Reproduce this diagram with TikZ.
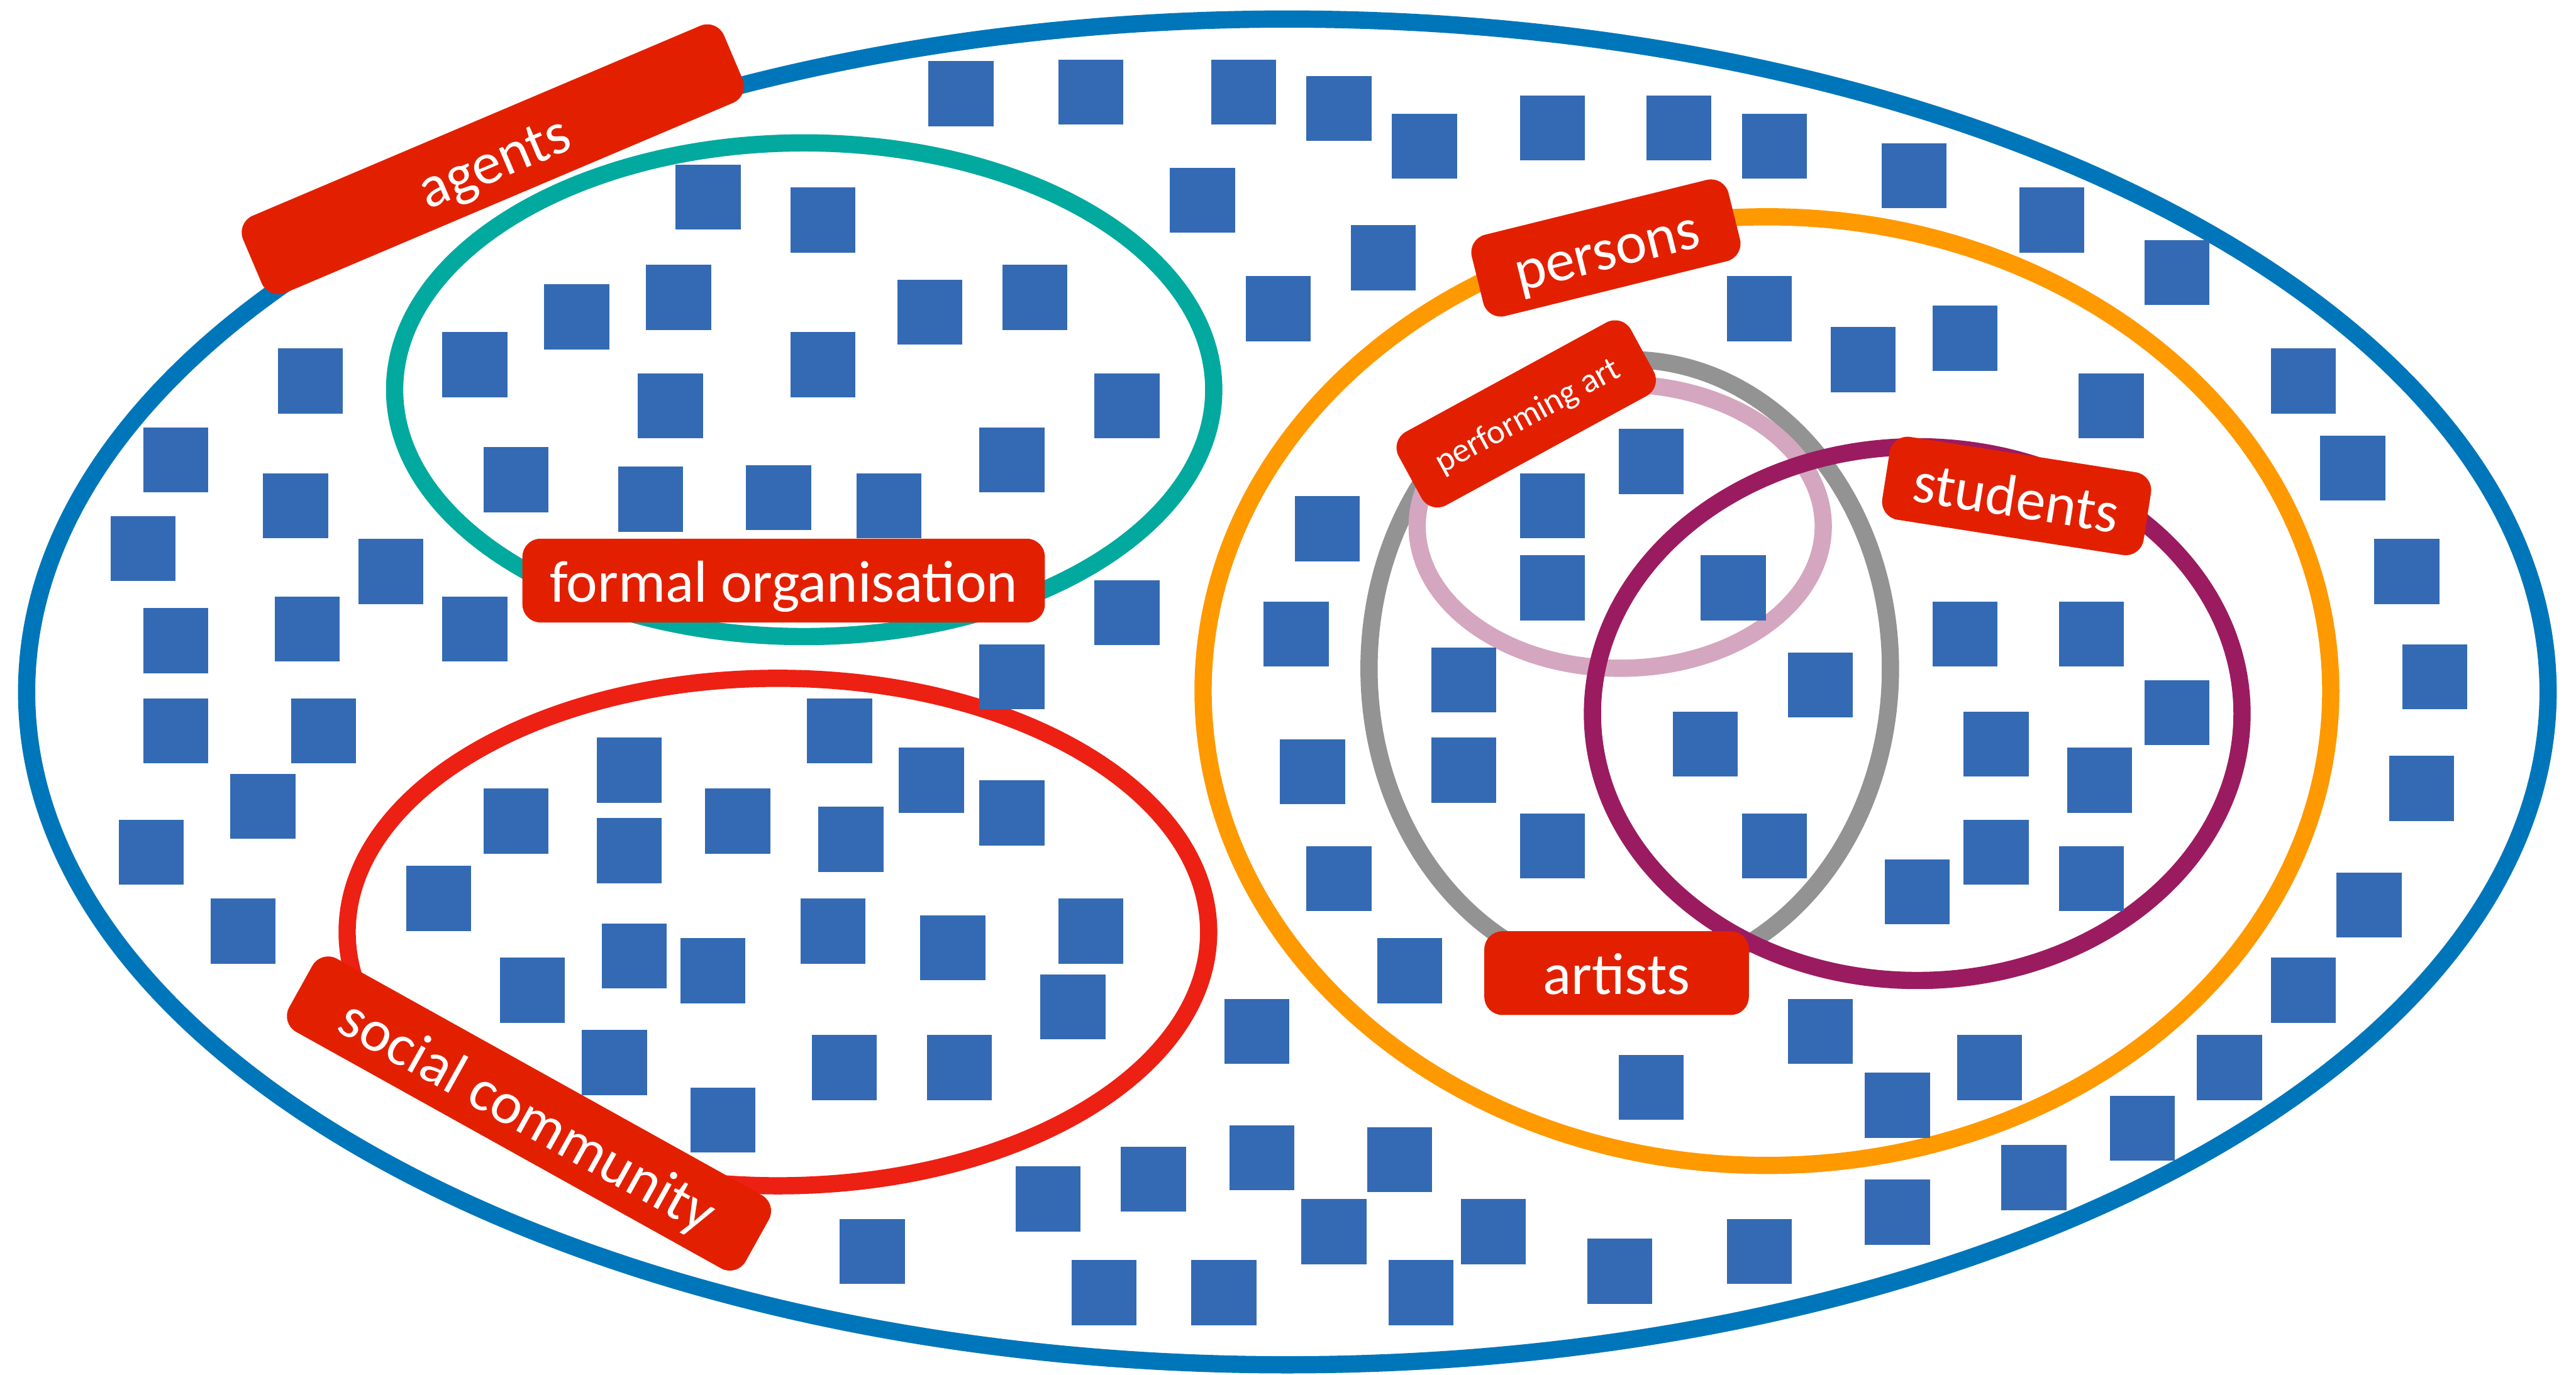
\documentclass[tikz,border=0pt]{standalone}
\usepackage{fontspec}
\setmainfont{Carlito}
\definecolor{outerblue}{RGB}{0,118,186}
\definecolor{tealc}{RGB}{2,169,158}
\definecolor{socred}{RGB}{237,32,20}
\definecolor{orangec}{RGB}{255,153,0}
\definecolor{greyc}{RGB}{147,147,147}
\definecolor{pinkc}{RGB}{213,166,192}
\definecolor{purplec}{RGB}{155,27,96}
\definecolor{labred}{RGB}{226,32,0}
\definecolor{sqblue}{RGB}{51,106,179}
\begin{document}
\begin{tikzpicture}[x=1pt,y=-1pt,
  ring/.style={line width=10.5pt},
  sq/.style={fill=sqblue},
  lab/.style={fill=labred,text=white,rounded corners=11pt,inner sep=0pt,
    minimum height=51pt,text height=26pt,text depth=0pt,
    font=\fontsize{36}{36}\selectfont},
  widebox/.style={minimum width=318pt},
  shortbox/.style={minimum width=161pt}]
\fill[white] (0,0) rectangle (1568,837);
\useasboundingbox (0,0) rectangle (1568,837);
% sets
\draw[ring,outerblue] (783.6,421.3) ellipse [x radius=767.4pt,y radius=409.7pt];
\draw[ring,tealc] (489.5,237.3) ellipse [x radius=249.3pt,y radius=150.3pt];
\draw[ring,socred] (473.5,567.5) ellipse [x radius=262.2pt,y radius=154.5pt];
\draw[ring,orangec] (1075.5,420.8) ellipse [x radius=343.2pt,y radius=288.8pt];
\draw[ring,greyc] (992,407) ellipse [x radius=158.7pt,y radius=188pt];
\draw[ring,pinkc] (986.2,320.4) ellipse [x radius=123.6pt,y radius=86.5pt];
\draw[ring,purplec] (1167,434.5) ellipse [x radius=197.7pt,y radius=162.5pt];
% agents (squares)
\foreach \x/\y in {
 585/57,664/56,757/56,815/66,867/89,945/78,1022/78,1080/89,1165/107,1249/134,1325/166,
 732/122,842/157,778/188,686/373,616/412,
 1402/232,1432/285,1465/348,1482/412,1474/480,1442/551,1402/603,1357/650,1304/687,1238/717,1155/738,1071/762,986/774,
 531/762,638/730,672/787,702/718,745/787,768/705,765/628,812/750,852/706,865/787,909/750,
 189/232,107/280,180/308,87/334,238/348,107/390,187/383,289/383,107/445,197/445,160/491,92/519,148/567,
 431/120,501/134,413/181,351/193,566/190,630/181,289/222,501/222,408/247,686/247,616/280,314/292,396/304,474/303,541/308,
 1071/188,1134/219,1196/206,1285/247,808/322,1005/281,945/308,945/358,1055/358,789/386,891/414,1108/417,1196/386,1273/386,1325/434,
 799/470,891/469,1038/453,1215/453,1278/475,945/515,1080/515,1215/519,815/535,1167/543,1273/535,858/591,1108/628,1005/662,1211/650,1155/673,
 511/445,383/469,567/475,314/500,449/500,616/495,383/518,518/511,267/547,507/567,664/567,386/582,434/591,580/577,324/603,653/613,374/647,514/650,584/650,440/682}
 \fill[sq] (\x-19.8,\y-19.8) rectangle +(39.6,39.6);
% labels
\node[lab,widebox,rotate=23] (agents) at (300,97) {agents};
\node[lab,widebox] (formal) at (477,353.5) {formal organisation};
\node[lab,widebox,rotate=-29.1] (social) at (322,678) {social community};
\node[lab,shortbox,rotate=13.9] (persons) at (977.5,151) {persons};
\node[lab,shortbox,rotate=28.6,text height=15pt,font=\fontsize{21}{21}\selectfont] (perf) at (929,252) {performing art};
\node[lab,shortbox,rotate=-8.9] (students) at (1227.5,302) {students};
\node[lab,shortbox] (artists) at (984,592.5) {artists};
\end{tikzpicture}
\end{document}
